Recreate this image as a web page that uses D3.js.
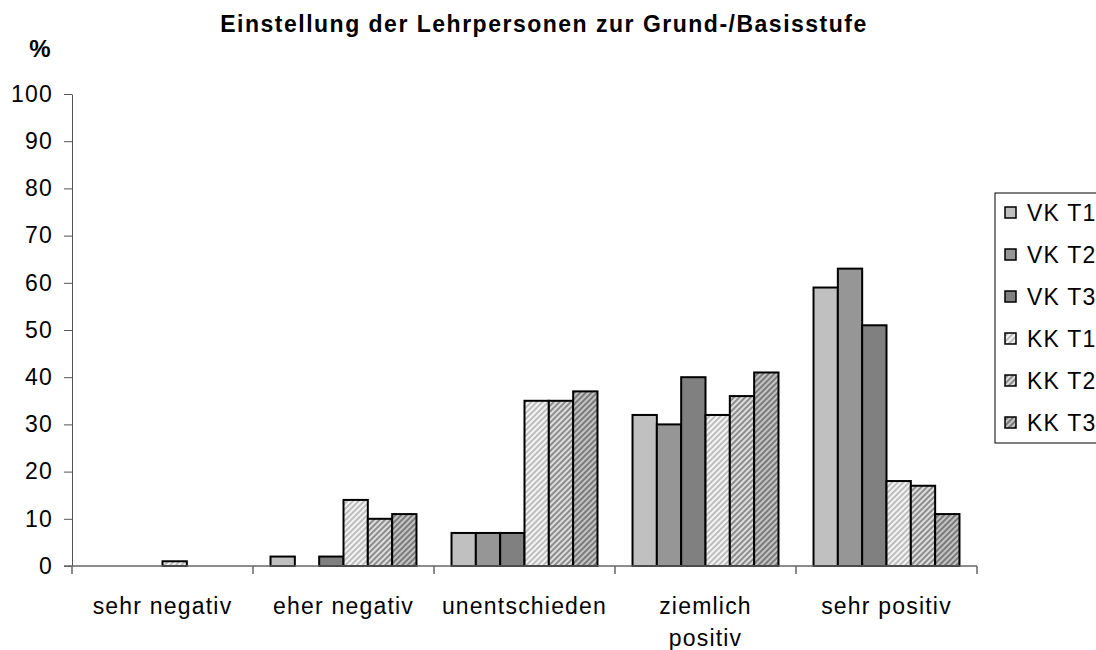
<!DOCTYPE html>
<html>
<head>
<meta charset="utf-8">
<script src="https://cdn.jsdelivr.net/npm/d3@7"></script>
<style>
  body { margin: 0; background: #fff; }
  text { font-family: "Liberation Sans", Arial, sans-serif; }
</style>
</head>
<body>
<script>
const categories = ["sehr negativ", "eher negativ", "unentschieden", "ziemlich positiv", "sehr positiv"];
const series = ["VK T1", "VK T2", "VK T3", "KK T1", "KK T2", "KK T3"];
const vkT1 = [0, 2, 7, 32, 59];
const vkT2 = [0, 0, 7, 30, 63];
const vkT3 = [0, 2, 7, 40, 51];
const kkT1 = [1, 14, 35, 32, 18];
const kkT2 = [0, 10, 35, 36, 17];
const kkT3 = [0, 11, 37, 41, 11];
const yTicks = [0, 10, 20, 30, 40, 50, 60, 70, 80, 90, 100];

const values = [vkT1, vkT2, vkT3, kkT1, kkT2, kkT3];
const w = 1096, h = 650;

// fills: solid greys for VK, hatched for KK
const fills = [
  { solid: "#c0c0c0" },
  { solid: "#969696" },
  { solid: "#808080" },
  { bg: "#f4f4f4", fg: "#bdbdbd" },
  { bg: "#dedede", fg: "#8c8c8c" },
  { bg: "#c4c4c4", fg: "#7a7a7a" }
];

const svg = d3.select("body").append("svg").attr("width", w).attr("height", h);
const defs = svg.append("defs");

fills.forEach((f, i) => {
  if (f.solid) return;
  const p = defs.append("pattern")
    .attr("id", "hatch" + i)
    .attr("patternUnits", "userSpaceOnUse")
    .attr("width", 4).attr("height", 4)
    .attr("patternTransform", "rotate(45)");
  p.append("rect").attr("width", 4).attr("height", 4).attr("fill", f.bg);
  p.append("rect").attr("width", 2).attr("height", 4).attr("fill", f.fg);
});
const fillOf = (i) => fills[i].solid ? fills[i].solid : "url(#hatch" + i + ")";

const x0 = d3.scaleBand().domain(categories).range([72, 977]).padding(0);
const x1 = d3.scaleBand().domain(series).range([0, x0.bandwidth()]).paddingInner(0).paddingOuter(0.72);
const y = d3.scaleLinear().domain([0, 100]).range([566, 94]);

// title
svg.append("text")
  .attr("x", 544).attr("y", 32)
  .attr("text-anchor", "middle")
  .attr("font-size", "23px").attr("font-weight", "bold")
  .attr("letter-spacing", "1.5px")
  .text("Einstellung der Lehrpersonen zur Grund-/Basisstufe");

svg.append("text")
  .attr("x", 40).attr("y", 57)
  .attr("text-anchor", "middle")
  .attr("font-size", "24px").attr("font-weight", "bold")
  .text("%");

// bars
const groups = svg.append("g").selectAll("g")
  .data(categories)
  .enter()
  .append("g")
    .attr("transform", (d) => "translate(" + x0(d) + ",0)");

groups.selectAll("rect")
  .data((d, ci) => series.map((s, si) => ({ s: s, si: si, v: values[si][ci] })))
  .enter()
  .filter((d) => d.v > 0)
  .append("rect")
    .attr("x", (d) => x1(d.s))
    .attr("y", (d) => y(d.v))
    .attr("width", x1.bandwidth())
    .attr("height", (d) => y(0) - y(d.v))
    .attr("fill", (d) => fillOf(d.si))
    .attr("stroke", "#000")
    .attr("stroke-width", 2);

// y axis
const yAxis = svg.append("g")
  .attr("transform", "translate(72,0)")
  .call(d3.axisLeft(y).tickValues(yTicks).tickSize(8).tickPadding(11).tickSizeOuter(0));
yAxis.select(".domain").attr("stroke", "#555");
yAxis.selectAll(".tick line").attr("stroke", "#555");
yAxis.selectAll(".tick text")
  .attr("font-family", "Liberation Sans, Arial, sans-serif")
  .attr("font-size", "23px").attr("letter-spacing", "1.2px").attr("fill", "#000");

// x axis line + ticks at group boundaries
const xAxis = svg.append("g").attr("transform", "translate(0," + y(0) + ")");
xAxis.append("line")
  .attr("x1", 64).attr("x2", 977)
  .attr("stroke", "#666").attr("stroke-width", 1.5);
const bounds = categories.map((d) => x0(d)).concat([x0(categories[categories.length - 1]) + x0.bandwidth()]);
xAxis.selectAll(".bt")
  .data(bounds)
  .enter()
  .append("line")
    .attr("x1", (d) => d).attr("x2", (d) => d)
    .attr("y1", 0).attr("y2", 8)
    .attr("stroke", "#666").attr("stroke-width", 1.5);

// category labels (wrap "ziemlich positiv")
const labels = svg.append("g").selectAll("text")
  .data(categories)
  .enter()
  .append("text")
    .attr("x", (d) => x0(d) + x0.bandwidth() / 2)
    .attr("y", 614)
    .attr("text-anchor", "middle")
    .attr("font-size", "23px")
    .attr("letter-spacing", "1.2px");
labels.each(function(d) {
  const t = d3.select(this);
  const lines = d === "ziemlich positiv" ? ["ziemlich", "positiv"] : [d];
  lines.forEach((l, i) => {
    t.append("tspan")
      .attr("x", x0(d) + x0.bandwidth() / 2)
      .attr("dy", i === 0 ? 0 : 32)
      .text(l);
  });
});

// legend
const lg = svg.append("g").attr("transform", "translate(995,193)");
lg.append("rect")
  .attr("width", 120).attr("height", 250)
  .attr("fill", "#fff").attr("stroke", "#000").attr("stroke-width", 1);
const items = lg.selectAll(".item")
  .data(series)
  .enter()
  .append("g")
    .attr("transform", (d, i) => "translate(0," + (20 + i * 42) + ")");
items.append("rect")
  .attr("x", 10).attr("y", -6)
  .attr("width", 11).attr("height", 11)
  .attr("fill", (d, i) => fillOf(i))
  .attr("stroke", "#000").attr("stroke-width", 1.5);
items.append("text")
  .attr("x", 32).attr("y", 8)
  .attr("font-size", "23px")
  .attr("letter-spacing", "1.2px")
  .text((d) => d);
</script>
</body>
</html>
